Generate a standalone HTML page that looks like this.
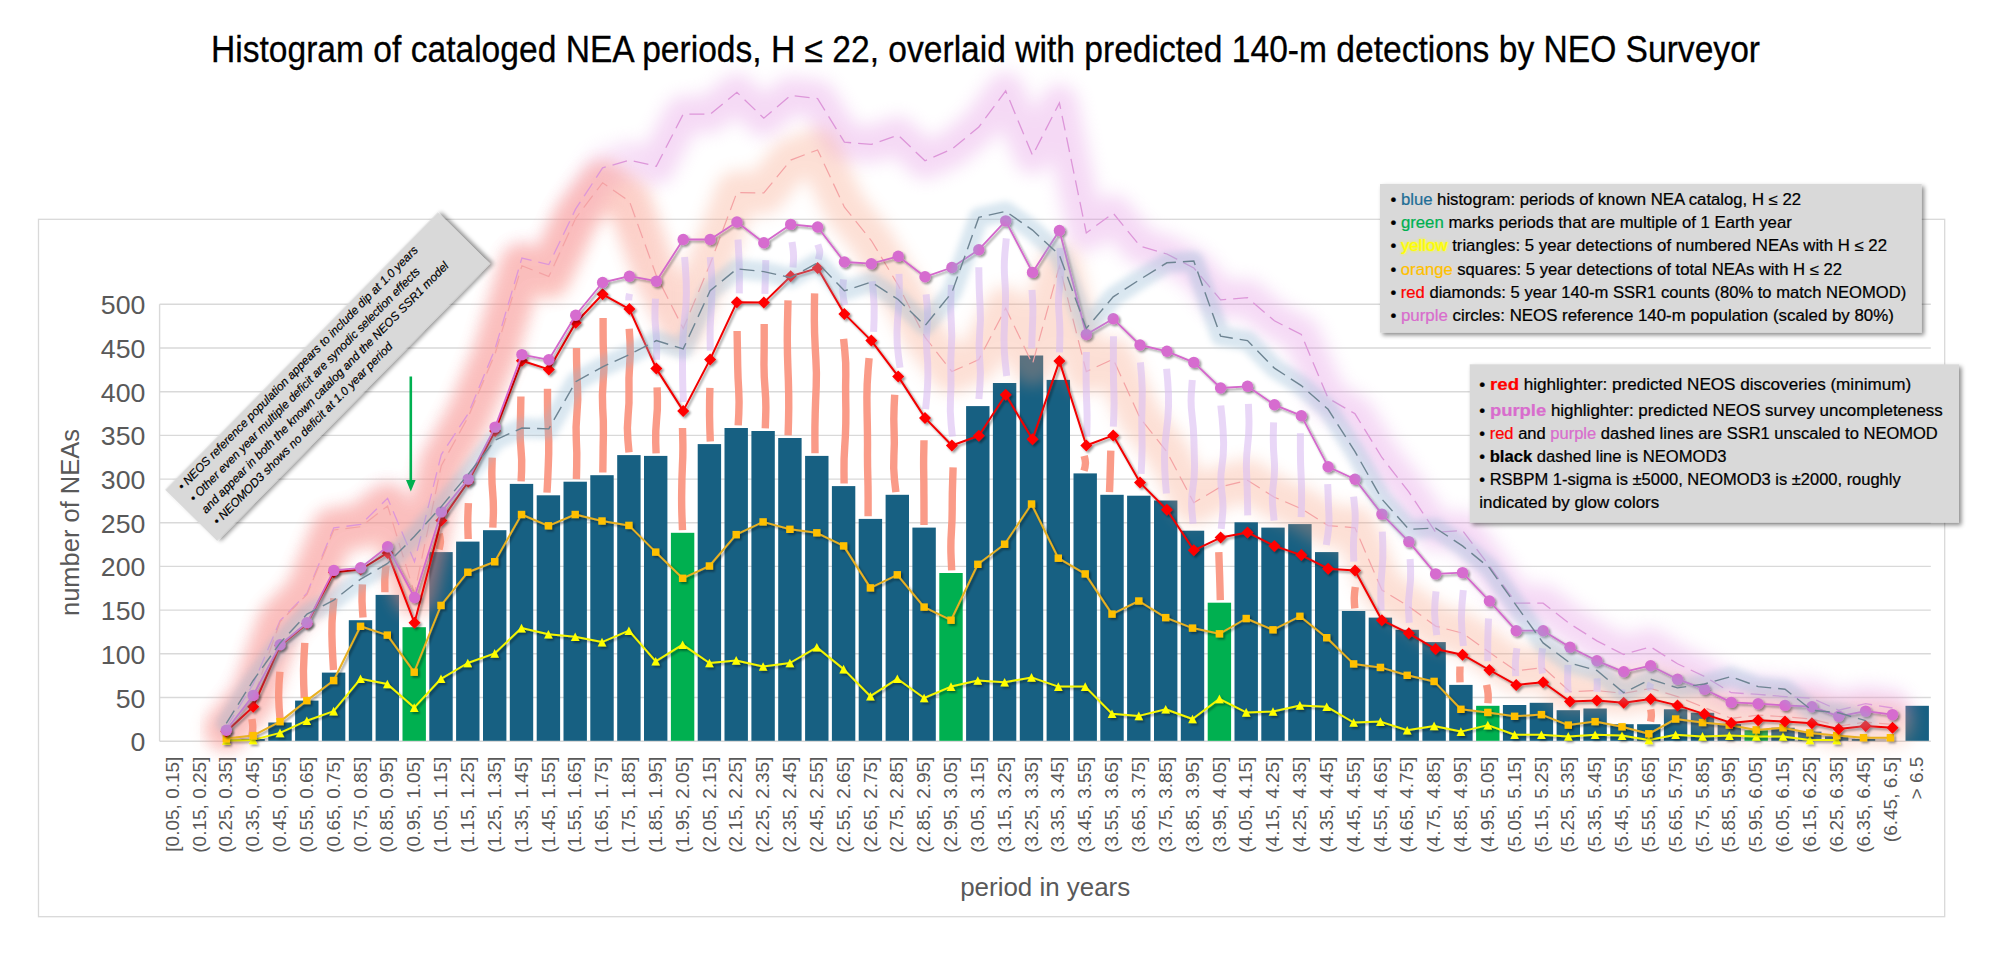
<!DOCTYPE html>
<html lang="en"><head><meta charset="utf-8">
<title>Histogram of cataloged NEA periods</title>
<style>
html,body{margin:0;padding:0;background:#fff;}
body{width:2000px;height:953px;overflow:hidden;font-family:"Liberation Sans",sans-serif;}
svg{display:block;}
text{font-family:"Liberation Sans",sans-serif;}
</style></head><body>
<svg width="2000" height="953" viewBox="0 0 2000 953">
<defs>
<filter id="gP" x="-5%" y="-25%" width="110%" height="150%"><feGaussianBlur stdDeviation="8.5"/></filter>
<filter id="gR" x="-5%" y="-25%" width="110%" height="150%"><feGaussianBlur stdDeviation="8"/></filter>
<filter id="gB" x="-5%" y="-20%" width="110%" height="140%"><feGaussianBlur stdDeviation="3.3"/></filter>
<filter id="sh" x="-2%" y="-5%" width="104%" height="110%"><feDropShadow dx="1.8" dy="1.8" stdDeviation="1.2" flood-color="#000" flood-opacity="0.42"/></filter>
<filter id="yg" x="-20%" y="-40%" width="140%" height="180%"><feGaussianBlur stdDeviation="1.6"/></filter>
<filter id="bsh" x="-10%" y="-20%" width="120%" height="140%"><feDropShadow dx="2.5" dy="2.5" stdDeviation="2.2" flood-color="#000" flood-opacity="0.45"/></filter>
<linearGradient id="pgrad" gradientUnits="userSpaceOnUse" x1="0" y1="0" x2="2000" y2="0">
<stop offset="0" stop-color="#e18ce1" stop-opacity="0.3"/><stop offset="0.2742" stop-color="#e18ce1" stop-opacity="0.3"/><stop offset="0.3279" stop-color="#e18ce1" stop-opacity="1"/><stop offset="1" stop-color="#e18ce1" stop-opacity="1"/></linearGradient>
<linearGradient id="rgrad" gradientUnits="userSpaceOnUse" x1="0" y1="0" x2="2000" y2="0">
<stop offset="0" stop-color="#fa6e78" stop-opacity="1"/><stop offset="0.2876" stop-color="#fa6e78" stop-opacity="1"/><stop offset="0.3547" stop-color="#fa6e78" stop-opacity="0"/><stop offset="1" stop-color="#fa6e78" stop-opacity="0"/></linearGradient>
</defs>
<rect width="2000" height="953" fill="#fff"/>
<text id="title" x="211" y="62.2" font-size="36" fill="#000" stroke="#000" stroke-width="0.3" textLength="1549" lengthAdjust="spacingAndGlyphs">Histogram of cataloged NEA periods, H ≤ 22, overlaid with predicted 140-m detections by NEO Surveyor</text>
<rect x="38.5" y="219.3" width="1906.2" height="697.4" fill="#fff" stroke="#d9d9d9" stroke-width="1.3"/>
<g stroke="#d9d9d9" stroke-width="1.4">
<line x1="159.6" x2="1930.8" y1="741.2" y2="741.2"/><line x1="159.6" x2="1930.8" y1="697.5" y2="697.5"/><line x1="159.6" x2="1930.8" y1="653.8" y2="653.8"/><line x1="159.6" x2="1930.8" y1="610.1" y2="610.1"/><line x1="159.6" x2="1930.8" y1="566.4" y2="566.4"/><line x1="159.6" x2="1930.8" y1="522.7" y2="522.7"/><line x1="159.6" x2="1930.8" y1="479.1" y2="479.1"/><line x1="159.6" x2="1930.8" y1="435.4" y2="435.4"/><line x1="159.6" x2="1930.8" y1="391.7" y2="391.7"/><line x1="159.6" x2="1930.8" y1="348.0" y2="348.0"/><line x1="159.6" x2="1930.8" y1="304.3" y2="304.3"/><line x1="159.6" x2="159.6" y1="304.3" y2="741.2"/></g>
<g font-size="26.7" fill="#595959" text-anchor="end">
<text x="145.4" y="751.2">0</text><text x="145.4" y="707.5">50</text><text x="145.4" y="663.8">100</text><text x="145.4" y="620.1">150</text><text x="145.4" y="576.4">200</text><text x="145.4" y="532.7">250</text><text x="145.4" y="489.1">300</text><text x="145.4" y="445.4">350</text><text x="145.4" y="401.7">400</text><text x="145.4" y="358.0">450</text><text x="145.4" y="314.3">500</text></g>
<text transform="translate(79,522.5) rotate(-90)" font-size="26" fill="#595959" text-anchor="middle" textLength="187" lengthAdjust="spacingAndGlyphs">number of NEAs</text>
<text x="1045.2" y="896" font-size="26" fill="#595959" text-anchor="middle" textLength="170" lengthAdjust="spacingAndGlyphs">period in years</text>
<g font-size="19" fill="#595959" text-anchor="end">
<text transform="translate(178.7,756.6) rotate(-90)">[0.05, 0.15]</text><text transform="translate(205.5,756.6) rotate(-90)">(0.15, 0.25]</text><text transform="translate(232.4,756.6) rotate(-90)">(0.25, 0.35]</text><text transform="translate(259.2,756.6) rotate(-90)">(0.35, 0.45]</text><text transform="translate(286.1,756.6) rotate(-90)">(0.45, 0.55]</text><text transform="translate(312.9,756.6) rotate(-90)">(0.55, 0.65]</text><text transform="translate(339.7,756.6) rotate(-90)">(0.65, 0.75]</text><text transform="translate(366.6,756.6) rotate(-90)">(0.75, 0.85]</text><text transform="translate(393.4,756.6) rotate(-90)">(0.85, 0.95]</text><text transform="translate(420.3,756.6) rotate(-90)">(0.95, 1.05]</text><text transform="translate(447.1,756.6) rotate(-90)">(1.05, 1.15]</text><text transform="translate(473.9,756.6) rotate(-90)">(1.15, 1.25]</text><text transform="translate(500.8,756.6) rotate(-90)">(1.25, 1.35]</text><text transform="translate(527.6,756.6) rotate(-90)">(1.35, 1.45]</text><text transform="translate(554.5,756.6) rotate(-90)">(1.45, 1.55]</text><text transform="translate(581.3,756.6) rotate(-90)">(1.55, 1.65]</text><text transform="translate(608.1,756.6) rotate(-90)">(1.65, 1.75]</text><text transform="translate(635.0,756.6) rotate(-90)">(1.75, 1.85]</text><text transform="translate(661.8,756.6) rotate(-90)">(1.85, 1.95]</text><text transform="translate(688.7,756.6) rotate(-90)">(1.95, 2.05]</text><text transform="translate(715.5,756.6) rotate(-90)">(2.05, 2.15]</text><text transform="translate(742.3,756.6) rotate(-90)">(2.15, 2.25]</text><text transform="translate(769.2,756.6) rotate(-90)">(2.25, 2.35]</text><text transform="translate(796.0,756.6) rotate(-90)">(2.35, 2.45]</text><text transform="translate(822.9,756.6) rotate(-90)">(2.45, 2.55]</text><text transform="translate(849.7,756.6) rotate(-90)">(2.55, 2.65]</text><text transform="translate(876.5,756.6) rotate(-90)">(2.65, 2.75]</text><text transform="translate(903.4,756.6) rotate(-90)">(2.75, 2.85]</text><text transform="translate(930.2,756.6) rotate(-90)">(2.85, 2.95]</text><text transform="translate(957.1,756.6) rotate(-90)">(2.95, 3.05]</text><text transform="translate(983.9,756.6) rotate(-90)">(3.05, 3.15]</text><text transform="translate(1010.7,756.6) rotate(-90)">(3.15, 3.25]</text><text transform="translate(1037.6,756.6) rotate(-90)">(3.25, 3.35]</text><text transform="translate(1064.4,756.6) rotate(-90)">(3.35, 3.45]</text><text transform="translate(1091.3,756.6) rotate(-90)">(3.45, 3.55]</text><text transform="translate(1118.1,756.6) rotate(-90)">(3.55, 3.65]</text><text transform="translate(1144.9,756.6) rotate(-90)">(3.65, 3.75]</text><text transform="translate(1171.8,756.6) rotate(-90)">(3.75, 3.85]</text><text transform="translate(1198.6,756.6) rotate(-90)">(3.85, 3.95]</text><text transform="translate(1225.5,756.6) rotate(-90)">(3.95, 4.05]</text><text transform="translate(1252.3,756.6) rotate(-90)">(4.05, 4.15]</text><text transform="translate(1279.1,756.6) rotate(-90)">(4.15, 4.25]</text><text transform="translate(1306.0,756.6) rotate(-90)">(4.25, 4.35]</text><text transform="translate(1332.8,756.6) rotate(-90)">(4.35, 4.45]</text><text transform="translate(1359.7,756.6) rotate(-90)">(4.45, 4.55]</text><text transform="translate(1386.5,756.6) rotate(-90)">(4.55, 4.65]</text><text transform="translate(1413.3,756.6) rotate(-90)">(4.65, 4.75]</text><text transform="translate(1440.2,756.6) rotate(-90)">(4.75, 4.85]</text><text transform="translate(1467.0,756.6) rotate(-90)">(4.85, 4.95]</text><text transform="translate(1493.9,756.6) rotate(-90)">(4.95, 5.05]</text><text transform="translate(1520.7,756.6) rotate(-90)">(5.05, 5.15]</text><text transform="translate(1547.5,756.6) rotate(-90)">(5.15, 5.25]</text><text transform="translate(1574.4,756.6) rotate(-90)">(5.25, 5.35]</text><text transform="translate(1601.2,756.6) rotate(-90)">(5.35, 5.45]</text><text transform="translate(1628.1,756.6) rotate(-90)">(5.45, 5.55]</text><text transform="translate(1654.9,756.6) rotate(-90)">(5.55, 5.65]</text><text transform="translate(1681.7,756.6) rotate(-90)">(5.65, 5.75]</text><text transform="translate(1708.6,756.6) rotate(-90)">(5.75, 5.85]</text><text transform="translate(1735.4,756.6) rotate(-90)">(5.85, 5.95]</text><text transform="translate(1762.3,756.6) rotate(-90)">(5.95, 6.05]</text><text transform="translate(1789.1,756.6) rotate(-90)">(6.05, 6.15]</text><text transform="translate(1815.9,756.6) rotate(-90)">(6.15, 6.25]</text><text transform="translate(1842.8,756.6) rotate(-90)">(6.25, 6.35]</text><text transform="translate(1869.6,756.6) rotate(-90)">(6.35, 6.45]</text><text transform="translate(1896.5,756.6) rotate(-90)">(6.45, 6.5]</text><text transform="translate(1923.3,756.6) rotate(-90)">&gt; 6.5</text></g>
<g>
<rect x="241.4" y="739.1" width="23.4" height="1.7" fill="#176082"/><rect x="268.3" y="722.5" width="23.4" height="18.3" fill="#176082"/><rect x="295.1" y="700.6" width="23.4" height="40.2" fill="#176082"/><rect x="321.9" y="672.6" width="23.4" height="68.2" fill="#176082"/><rect x="348.8" y="620.2" width="23.4" height="120.6" fill="#176082"/><rect x="375.6" y="594.9" width="23.4" height="145.9" fill="#176082"/><rect x="402.5" y="627.2" width="23.4" height="113.6" fill="#00b050"/><rect x="429.3" y="552.1" width="23.4" height="188.7" fill="#176082"/><rect x="456.1" y="541.6" width="23.4" height="199.2" fill="#176082"/><rect x="483.0" y="530.2" width="23.4" height="210.6" fill="#176082"/><rect x="509.8" y="483.9" width="23.4" height="256.9" fill="#176082"/><rect x="536.7" y="495.3" width="23.4" height="245.5" fill="#176082"/><rect x="563.5" y="481.7" width="23.4" height="259.1" fill="#176082"/><rect x="590.3" y="475.2" width="23.4" height="265.6" fill="#176082"/><rect x="617.2" y="455.1" width="23.4" height="285.7" fill="#176082"/><rect x="644.0" y="455.9" width="23.4" height="284.9" fill="#176082"/><rect x="670.9" y="532.8" width="23.4" height="208.0" fill="#00b050"/><rect x="697.7" y="444.1" width="23.4" height="296.7" fill="#176082"/><rect x="724.5" y="428.0" width="23.4" height="312.8" fill="#176082"/><rect x="751.4" y="431.0" width="23.4" height="309.8" fill="#176082"/><rect x="778.2" y="438.0" width="23.4" height="302.8" fill="#176082"/><rect x="805.1" y="455.9" width="23.4" height="284.9" fill="#176082"/><rect x="831.9" y="486.1" width="23.4" height="254.7" fill="#176082"/><rect x="858.7" y="518.9" width="23.4" height="221.9" fill="#176082"/><rect x="885.6" y="494.8" width="23.4" height="246.0" fill="#176082"/><rect x="912.4" y="527.6" width="23.4" height="213.2" fill="#176082"/><rect x="939.3" y="573.0" width="23.4" height="167.8" fill="#00b050"/><rect x="966.1" y="406.1" width="23.4" height="334.7" fill="#176082"/><rect x="992.9" y="383.0" width="23.4" height="357.8" fill="#176082"/><rect x="1019.8" y="355.5" width="23.4" height="385.3" fill="#176082"/><rect x="1046.6" y="379.9" width="23.4" height="360.9" fill="#176082"/><rect x="1073.5" y="473.4" width="23.4" height="267.4" fill="#176082"/><rect x="1100.3" y="494.8" width="23.4" height="246.0" fill="#176082"/><rect x="1127.1" y="495.7" width="23.4" height="245.1" fill="#176082"/><rect x="1154.0" y="500.5" width="23.4" height="240.3" fill="#176082"/><rect x="1180.8" y="530.7" width="23.4" height="210.1" fill="#176082"/><rect x="1207.7" y="602.7" width="23.4" height="138.1" fill="#00b050"/><rect x="1234.5" y="522.3" width="23.4" height="218.5" fill="#176082"/><rect x="1261.3" y="527.6" width="23.4" height="213.2" fill="#176082"/><rect x="1288.2" y="524.1" width="23.4" height="216.7" fill="#176082"/><rect x="1315.0" y="552.1" width="23.4" height="188.7" fill="#176082"/><rect x="1341.9" y="611.0" width="23.4" height="129.8" fill="#176082"/><rect x="1368.7" y="617.6" width="23.4" height="123.2" fill="#176082"/><rect x="1395.5" y="629.8" width="23.4" height="111.0" fill="#176082"/><rect x="1422.4" y="642.1" width="23.4" height="98.7" fill="#176082"/><rect x="1449.2" y="684.9" width="23.4" height="55.9" fill="#176082"/><rect x="1476.1" y="705.8" width="23.4" height="35.0" fill="#00b050"/><rect x="1502.9" y="705.0" width="23.4" height="35.8" fill="#176082"/><rect x="1529.7" y="702.8" width="23.4" height="38.0" fill="#176082"/><rect x="1556.6" y="710.2" width="23.4" height="30.6" fill="#176082"/><rect x="1583.4" y="708.5" width="23.4" height="32.3" fill="#176082"/><rect x="1610.3" y="724.2" width="23.4" height="16.6" fill="#176082"/><rect x="1637.1" y="724.2" width="23.4" height="16.6" fill="#176082"/><rect x="1663.9" y="709.3" width="23.4" height="31.5" fill="#176082"/><rect x="1690.8" y="712.8" width="23.4" height="28.0" fill="#176082"/><rect x="1717.6" y="724.2" width="23.4" height="16.6" fill="#176082"/><rect x="1744.5" y="730.3" width="23.4" height="10.5" fill="#00b050"/><rect x="1771.3" y="727.7" width="23.4" height="13.1" fill="#176082"/><rect x="1798.1" y="731.6" width="23.4" height="9.2" fill="#176082"/><rect x="1825.0" y="736.4" width="23.4" height="4.4" fill="#176082"/><rect x="1851.8" y="739.1" width="23.4" height="1.7" fill="#176082"/><rect x="1905.5" y="705.8" width="23.4" height="35.0" fill="#176082"/></g>
<polyline points="226.3,727.7 253.2,684.0 280.1,620.7 307.0,593.3 333.8,527.8 360.7,524.5 387.6,498.3 414.5,561.7 441.3,454.6 468.2,413.7 495.1,348.7 521.9,258.0 548.8,264.6 575.7,208.9 602.6,167.9 629.4,160.1 656.3,166.3 683.2,114.2 710.1,114.2 736.9,92.3 763.8,118.2 790.7,95.3 817.6,98.6 844.4,142.2 871.3,144.4 898.2,135.1 925.0,160.8 951.9,149.1 978.8,127.0 1005.7,90.9 1032.5,155.4 1059.4,102.9 1086.3,232.9 1113.2,213.2 1140.0,246.0 1166.9,254.0 1193.8,267.9 1220.6,299.9 1247.5,297.7 1274.4,320.8 1301.3,334.5 1328.1,398.2 1355.0,413.8 1381.9,457.5 1408.8,491.8 1435.6,532.2 1462.5,530.5 1489.4,566.0 1516.2,603.2 1543.1,603.2 1570.0,623.9 1596.9,640.9 1623.7,654.5 1650.6,646.9 1677.5,663.8 1704.4,676.4 1731.2,692.7 1758.1,694.4 1785.0,696.6 1811.9,698.2 1838.7,710.2 1865.6,703.7 1892.5,708.0" fill="none" stroke="url(#pgrad)" stroke-width="37" stroke-linejoin="round" stroke-linecap="round" filter="url(#gP)" opacity="0.32"/>
<polyline points="226.3,729.3 253.2,698.2 280.1,621.7 307.0,594.4 333.8,530.0 360.7,526.7 387.6,506.0 414.5,593.3 441.3,465.6 468.2,416.9 495.1,353.6 521.9,265.7 548.8,276.6 575.7,218.2 602.6,182.7 629.4,201.2 656.3,275.5 683.2,328.5 710.1,264.0 736.9,192.5 763.8,193.0 790.7,160.1 817.6,149.9 844.4,207.2 871.3,240.5 898.2,285.3 925.0,337.2 951.9,371.6 978.8,359.6 1005.7,308.3 1032.5,364.0 1059.4,266.2 1086.3,371.6 1113.2,359.1 1140.0,418.0 1166.9,451.9 1193.8,502.7 1220.6,486.9 1247.5,480.3 1274.4,497.2 1301.3,508.7 1328.1,525.6 1355.0,527.8 1381.9,590.1 1408.8,606.5 1435.6,626.1 1462.5,633.2 1489.4,652.3 1516.2,670.9 1543.1,667.6 1570.0,691.6 1596.9,690.6 1623.7,693.3 1650.6,688.4 1677.5,696.6 1704.4,707.5 1731.2,718.4 1758.1,715.1 1785.0,716.8 1811.9,719.0 1838.7,726.1 1865.6,722.2 1892.5,724.4" fill="none" stroke="#f89b7a" stroke-width="43" stroke-linejoin="round" stroke-linecap="round" filter="url(#gR)" opacity="0.31"/>
<polyline points="226.3,729.3 253.2,698.2 280.1,621.7 307.0,594.4 333.8,530.0 360.7,526.7 387.6,506.0 414.5,593.3 441.3,465.6 468.2,416.9 495.1,353.6 521.9,265.7 548.8,276.6 575.7,218.2 602.6,182.7 629.4,201.2 656.3,275.5 683.2,328.5 710.1,264.0 736.9,192.5" fill="none" stroke="url(#rgrad)" stroke-width="43" stroke-linejoin="round" stroke-linecap="round" filter="url(#gR)" opacity="0.24"/>
<polyline points="226.3,727.7 253.2,684.0 280.1,620.7 307.0,593.3 333.8,527.8 360.7,524.5 387.6,498.3 414.5,561.7 441.3,454.6 468.2,413.7 495.1,348.7 521.9,258.0 548.8,264.6 575.7,208.9 602.6,167.9 629.4,160.1 656.3,166.3 683.2,114.2 710.1,114.2 736.9,92.3 763.8,118.2 790.7,95.3 817.6,98.6 844.4,142.2 871.3,144.4 898.2,135.1 925.0,160.8 951.9,149.1 978.8,127.0 1005.7,90.9 1032.5,155.4 1059.4,102.9 1086.3,232.9 1113.2,213.2 1140.0,246.0 1166.9,254.0 1193.8,267.9 1220.6,299.9 1247.5,297.7 1274.4,320.8 1301.3,334.5 1328.1,398.2 1355.0,413.8 1381.9,457.5 1408.8,491.8 1435.6,532.2 1462.5,530.5 1489.4,566.0 1516.2,603.2 1543.1,603.2 1570.0,623.9 1596.9,640.9 1623.7,654.5 1650.6,646.9 1677.5,663.8 1704.4,676.4 1731.2,692.7 1758.1,694.4 1785.0,696.6 1811.9,698.2 1838.7,710.2 1865.6,703.7 1892.5,708.0" fill="none" stroke="#dd96d9" stroke-width="1.3" stroke-dasharray="15 7"/>
<polyline points="226.3,729.3 253.2,698.2 280.1,621.7 307.0,594.4 333.8,530.0 360.7,526.7 387.6,506.0 414.5,593.3 441.3,465.6 468.2,416.9 495.1,353.6 521.9,265.7 548.8,276.6 575.7,218.2 602.6,182.7 629.4,201.2 656.3,275.5 683.2,328.5 710.1,264.0 736.9,192.5 763.8,193.0 790.7,160.1 817.6,149.9 844.4,207.2 871.3,240.5 898.2,285.3 925.0,337.2 951.9,371.6 978.8,359.6 1005.7,308.3 1032.5,364.0 1059.4,266.2 1086.3,371.6 1113.2,359.1 1140.0,418.0 1166.9,451.9 1193.8,502.7 1220.6,486.9 1247.5,480.3 1274.4,497.2 1301.3,508.7 1328.1,525.6 1355.0,527.8 1381.9,590.1 1408.8,606.5 1435.6,626.1 1462.5,633.2 1489.4,652.3 1516.2,670.9 1543.1,667.6 1570.0,691.6 1596.9,690.6 1623.7,693.3 1650.6,688.4 1677.5,696.6 1704.4,707.5 1731.2,718.4 1758.1,715.1 1785.0,716.8 1811.9,719.0 1838.7,726.1 1865.6,722.2 1892.5,724.4" fill="none" stroke="#f4a2a4" stroke-width="1.2" stroke-dasharray="15 7"/>
<g fill="none" stroke="#fa9682" stroke-width="7.4" stroke-linecap="butt" opacity="0.95">
<path d="M251.9,719.0 Q251.9,719.0 252.5,723.3 Q253.1,727.7 252.4,732.1 L251.7,736.4"/><path d="M279.9,671.8 Q279.9,671.8 279.0,683.8 Q278.2,695.8 279.1,707.8 L280.1,719.8"/><path d="M304.8,642.9 Q304.8,642.9 304.0,656.7 Q303.1,670.5 303.7,684.2 L304.3,698.0"/><path d="M333.9,598.4 Q333.9,598.4 332.8,610.3 Q331.7,622.3 331.9,634.2 Q332.1,646.1 332.8,658.1 L333.5,670.0"/><path d="M362.4,584.4 Q362.4,584.4 362.1,592.7 Q361.8,601.0 362.4,609.3 L363.0,617.6"/><path d="M386.1,565.2 Q386.1,565.2 385.3,571.9 Q384.6,578.7 384.8,585.5 L384.9,592.3"/><path d="M439.2,533.7 Q439.2,533.7 440.0,537.6 Q440.9,541.6 439.9,545.5 L439.0,549.4"/><path d="M468.4,503.1 Q468.4,503.1 468.0,512.1 Q467.6,521.0 467.9,530.0 L468.2,539.0"/><path d="M492.2,457.7 Q492.2,457.7 491.9,469.3 Q491.6,481.0 492.7,492.6 Q493.7,504.3 493.3,515.9 L492.8,527.6"/><path d="M520.9,396.5 Q520.9,396.5 520.7,407.1 Q520.6,417.7 520.2,428.3 Q519.9,438.9 521.0,449.5 Q522.1,460.1 521.6,470.7 L521.1,481.3"/><path d="M547.5,388.7 Q547.5,388.7 547.5,401.7 Q547.4,414.7 548.2,427.7 Q549.0,440.6 548.7,453.6 Q548.3,466.6 547.7,479.6 L547.0,492.6"/><path d="M576.5,348.0 Q576.5,348.0 576.6,361.1 Q576.8,374.2 577.5,387.3 Q578.3,400.5 576.9,413.6 Q575.6,426.7 576.3,439.8 Q577.1,452.9 576.7,466.0 L576.4,479.1"/><path d="M603.1,317.9 Q603.1,317.9 603.1,330.8 Q603.0,343.7 603.7,356.5 Q604.4,369.4 603.1,382.3 Q601.9,395.2 602.7,408.1 Q603.6,421.0 603.4,433.9 Q603.1,446.8 603.0,459.7 L602.8,472.5"/><path d="M629.2,328.8 Q629.2,328.8 630.0,341.2 Q630.7,353.5 629.6,365.9 Q628.6,378.3 629.0,390.6 Q629.4,403.0 628.1,415.4 Q626.8,427.7 627.9,440.1 L629.0,452.4"/><path d="M657.1,387.3 Q657.1,387.3 657.4,398.3 Q657.7,409.3 656.5,420.3 Q655.4,431.3 655.7,442.3 L656.1,453.3"/><path d="M682.5,428.0 Q682.5,428.0 682.8,440.8 Q683.1,453.5 682.4,466.3 Q681.8,479.1 681.7,491.9 Q681.5,504.7 682.0,517.4 L682.5,530.2"/><path d="M709.9,387.8 Q709.9,387.8 709.6,401.2 Q709.4,414.7 709.8,428.1 L710.3,441.5"/><path d="M737.1,331.0 Q737.1,331.0 737.3,342.8 Q737.5,354.6 737.7,366.4 Q737.9,378.2 738.7,390.0 Q739.4,401.8 738.8,413.6 L738.2,425.4"/><path d="M764.2,324.0 Q764.2,324.0 764.2,337.0 Q764.2,350.1 764.0,363.2 Q763.9,376.2 765.1,389.3 Q766.2,402.3 765.7,415.4 L765.3,428.4"/><path d="M788.0,300.4 Q788.0,300.4 787.7,313.9 Q787.3,327.4 787.3,340.9 Q787.4,354.4 787.9,367.9 Q788.5,381.4 788.7,394.9 Q788.9,408.4 788.5,421.9 L788.1,435.4"/><path d="M814.6,293.4 Q814.6,293.4 814.4,306.7 Q814.2,320.1 814.6,333.4 Q815.1,346.7 815.9,360.0 Q816.8,373.4 816.2,386.7 Q815.6,400.0 815.2,413.3 Q814.8,426.7 814.9,440.0 L815.0,453.3"/><path d="M843.6,338.9 Q843.6,338.9 844.8,350.9 Q846.1,363.0 845.8,375.0 Q845.5,387.1 845.7,399.1 Q846.0,411.2 845.8,423.2 Q845.6,435.3 844.7,447.3 Q843.8,459.4 844.0,471.4 L844.1,483.5"/><path d="M869.1,358.1 Q869.1,358.1 868.0,371.3 Q866.9,384.4 866.9,397.6 Q867.0,410.8 867.3,424.0 Q867.6,437.2 867.5,450.3 Q867.4,463.5 867.8,476.7 Q868.2,489.9 868.1,503.1 L868.1,516.2"/><path d="M894.7,394.8 Q894.7,394.8 894.1,407.0 Q893.5,419.1 894.1,431.3 Q894.7,443.5 893.9,455.7 Q893.2,467.8 894.5,480.0 L895.9,492.2"/><path d="M924.0,440.2 Q924.0,440.2 923.8,450.8 Q923.5,461.4 923.7,472.0 Q923.9,482.6 923.9,493.2 Q924.0,503.8 924.0,514.4 L924.0,525.0"/><path d="M953.1,467.3 Q953.1,467.3 952.7,480.2 Q952.2,493.1 952.2,506.0 Q952.3,518.9 951.4,531.7 Q950.5,544.6 951.1,557.5 L951.7,570.4"/><path d="M1084.2,455.9 Q1084.2,455.9 1085.1,459.7 Q1086.0,463.4 1085.0,467.1 L1084.0,470.8"/><path d="M1110.8,450.7 Q1110.8,450.7 1110.5,461.1 Q1110.2,471.5 1109.9,481.8 L1109.5,492.2"/><path d="M1218.8,552.1 Q1218.8,552.1 1219.2,564.1 Q1219.7,576.1 1220.0,588.1 L1220.3,600.1"/><path d="M1355.3,587.0 Q1355.3,587.0 1354.6,592.4 Q1354.0,597.7 1354.4,603.1 L1354.8,608.4"/><path d="M1460.0,666.5 Q1460.0,666.5 1459.9,670.5 Q1459.7,674.4 1459.9,678.3 L1460.0,682.3"/><path d="M1486.6,684.9 Q1486.6,684.9 1487.5,689.5 Q1488.4,694.1 1488.2,698.6 L1487.9,703.2"/><path d="M1650.7,709.3 Q1650.7,709.3 1651.2,712.4 Q1651.6,715.5 1651.1,718.5 L1650.6,721.6"/></g>
<g fill="none" stroke="#dcc0f3" stroke-width="7" stroke-linecap="butt" opacity="0.62">
<path d="M629.6,293.7 Q629.6,293.7 629.2,295.4 Q628.8,297.0 628.8,298.7 L628.8,300.4"/><path d="M655.5,298.7 Q655.5,298.7 655.0,308.9 Q654.6,319.0 655.7,329.2 Q656.8,339.4 656.7,349.6 L656.5,359.8"/><path d="M684.6,257.0 Q684.6,257.0 685.5,269.1 Q686.4,281.2 686.4,293.3 Q686.3,305.4 684.7,317.5 Q683.2,329.6 682.8,341.7 Q682.4,353.8 682.5,365.9 Q682.5,378.0 682.9,390.1 L683.4,402.2"/><path d="M710.2,257.0 Q710.2,257.0 711.2,268.7 Q712.1,280.4 711.9,292.1 Q711.8,303.8 710.8,315.5 Q709.9,327.2 710.1,338.9 L710.3,350.6"/><path d="M738.0,239.5 Q738.0,239.5 738.7,253.0 Q739.5,266.5 739.4,279.9 L739.3,293.4"/><path d="M765.8,260.2 Q765.8,260.2 765.6,268.6 Q765.3,277.0 765.1,285.4 L764.9,293.9"/><path d="M792.0,241.9 Q792.0,241.9 792.9,248.3 Q793.9,254.7 793.4,261.1 L793.0,267.5"/><path d="M817.8,244.5 Q817.8,244.5 819.0,248.2 Q820.3,251.9 819.3,255.6 L818.3,259.3"/><path d="M843.5,279.4 Q843.5,279.4 842.9,285.9 Q842.3,292.3 843.5,298.8 L844.8,305.2"/><path d="M872.3,281.2 Q872.3,281.2 873.4,293.9 Q874.6,306.5 874.1,319.2 L873.6,331.9"/><path d="M899.0,273.8 Q899.0,273.8 899.3,285.5 Q899.5,297.2 898.4,309.0 Q897.3,320.7 897.0,332.5 Q896.7,344.2 898.4,355.9 L900.0,367.7"/><path d="M926.1,294.3 Q926.1,294.3 927.2,305.8 Q928.3,317.3 927.0,328.8 Q925.7,340.3 926.9,351.7 Q928.0,363.2 927.9,374.7 Q927.8,386.2 926.7,397.7 L925.6,409.2"/><path d="M951.4,284.9 Q951.4,284.9 950.9,297.6 Q950.4,310.2 951.3,322.9 Q952.2,335.5 951.3,348.2 Q950.5,360.8 950.9,373.5 Q951.3,386.1 950.5,398.8 Q949.8,411.4 951.1,424.1 L952.4,436.7"/><path d="M978.8,267.2 Q978.8,267.2 979.0,280.4 Q979.3,293.6 980.1,306.8 Q981.0,320.0 979.7,333.2 Q978.4,346.4 979.7,359.6 Q981.0,372.8 979.9,385.9 L978.9,399.1"/><path d="M1006.3,238.4 Q1006.3,238.4 1005.0,252.1 Q1003.7,265.9 1004.8,279.7 Q1005.9,293.4 1005.3,307.2 Q1004.6,320.9 1004.1,334.7 Q1003.7,348.5 1005.2,362.2 L1006.7,376.0"/><path d="M1032.0,289.9 Q1032.0,289.9 1032.6,299.7 Q1033.2,309.4 1032.7,319.2 Q1032.3,328.9 1032.0,338.7 L1031.7,348.5"/><path d="M1060.0,248.0 Q1060.0,248.0 1060.7,261.0 Q1061.4,274.1 1059.6,287.1 Q1057.8,300.2 1059.0,313.2 Q1060.2,326.3 1059.8,339.3 L1059.5,352.4"/><path d="M1086.4,352.0 Q1086.4,352.0 1086.2,362.6 Q1086.0,373.1 1086.2,383.7 Q1086.3,394.3 1086.8,404.9 Q1087.3,415.5 1087.0,426.1 L1086.7,436.7"/><path d="M1113.5,336.2 Q1113.5,336.2 1113.4,347.5 Q1113.4,358.8 1113.4,370.1 Q1113.4,381.4 1113.9,392.8 Q1114.3,404.1 1113.8,415.4 L1113.3,426.7"/><path d="M1140.4,362.4 Q1140.4,362.4 1141.6,376.4 Q1142.7,390.3 1142.1,404.2 Q1141.5,418.1 1141.9,432.1 Q1142.4,446.0 1141.8,459.9 L1141.1,473.9"/><path d="M1166.6,368.8 Q1166.6,368.8 1167.7,381.3 Q1168.8,393.8 1168.5,406.2 Q1168.2,418.7 1166.4,431.2 Q1164.6,443.6 1164.5,456.1 Q1164.5,468.6 1165.4,481.0 L1166.4,493.5"/><path d="M1192.3,379.9 Q1192.3,379.9 1191.4,391.9 Q1190.5,403.9 1192.1,415.9 Q1193.6,427.8 1193.9,439.8 Q1194.2,451.8 1194.5,463.8 Q1194.8,475.7 1192.9,487.7 Q1190.9,499.7 1192.0,511.7 L1193.1,523.7"/><path d="M1220.8,405.5 Q1220.8,405.5 1222.1,417.9 Q1223.3,430.2 1223.6,442.5 Q1223.8,454.9 1221.8,467.2 Q1219.9,479.6 1221.8,491.9 Q1223.7,504.2 1222.4,516.6 L1221.2,528.9"/><path d="M1248.4,403.8 Q1248.4,403.8 1248.9,417.7 Q1249.4,431.7 1247.6,445.6 Q1245.9,459.6 1246.6,473.5 Q1247.3,487.5 1247.5,501.4 L1247.7,515.4"/><path d="M1273.6,422.3 Q1273.6,422.3 1273.3,434.6 Q1273.1,446.9 1274.2,459.2 Q1275.2,471.5 1273.4,483.7 Q1271.6,496.0 1272.9,508.3 L1274.1,520.6"/><path d="M1300.4,433.2 Q1300.4,433.2 1300.4,447.2 Q1300.3,461.2 1301.1,475.2 Q1301.8,489.1 1301.5,503.1 L1301.2,517.1"/><path d="M1327.7,484.2 Q1327.7,484.2 1328.1,494.3 Q1328.4,504.5 1328.9,514.6 Q1329.4,524.8 1327.8,534.9 L1326.3,545.1"/><path d="M1353.6,496.7 Q1353.6,496.7 1354.7,507.5 Q1355.8,518.3 1354.5,529.2 Q1353.2,540.0 1353.5,550.8 L1353.8,561.7"/><path d="M1382.3,531.6 Q1382.3,531.6 1382.8,544.8 Q1383.3,557.9 1381.9,571.1 Q1380.4,584.3 1380.8,597.4 L1381.1,610.6"/><path d="M1410.1,559.0 Q1410.1,559.0 1410.6,569.7 Q1411.0,580.3 1409.5,590.9 Q1407.9,601.6 1408.6,612.2 L1409.3,622.8"/><path d="M1436.0,591.4 Q1436.0,591.4 1435.0,602.3 Q1433.9,613.2 1435.4,624.1 L1436.8,635.1"/><path d="M1463.3,590.1 Q1463.3,590.1 1462.0,604.1 Q1460.7,618.0 1462.0,632.0 L1463.4,646.0"/><path d="M1488.5,618.5 Q1488.5,618.5 1488.1,629.2 Q1487.7,639.9 1487.7,650.6 L1487.7,661.3"/><path d="M1516.9,648.2 Q1516.9,648.2 1516.0,655.2 Q1515.1,662.2 1515.4,669.1 L1515.7,676.1"/><path d="M1542.6,648.2 Q1542.6,648.2 1541.8,654.5 Q1541.0,660.8 1541.7,667.2 L1542.5,673.5"/><path d="M1568.0,664.8 Q1568.0,664.8 1567.7,671.8 Q1567.5,678.8 1567.8,685.8 L1568.1,692.7"/><path d="M1597.1,678.3 Q1597.1,678.3 1597.2,681.7 Q1597.4,685.1 1597.1,688.5 L1596.9,691.9"/><path d="M1622.2,689.2 Q1622.2,689.2 1622.0,690.4 Q1621.7,691.6 1622.0,692.9 L1622.2,694.1"/><path d="M1651.1,683.1 Q1651.1,683.1 1650.2,684.9 Q1649.4,686.6 1650.2,688.4 L1651.0,690.1"/></g>
<g filter="url(#sh)">
<polyline points="226.3,740.4 253.1,739.9 280.0,732.9 306.8,720.7 333.6,711.1 360.5,678.8 387.3,684.0 414.2,707.6 441.0,678.8 467.8,663.0 494.7,653.4 521.5,628.1 548.4,634.2 575.2,636.8 602.0,642.1 628.9,630.7 655.7,661.3 682.6,644.7 709.4,663.0 736.2,660.4 763.1,666.5 789.9,663.0 816.8,647.3 843.6,669.1 870.4,696.2 897.3,678.8 924.1,698.0 951.0,686.6 977.8,680.5 1004.6,682.3 1031.5,677.4 1058.3,686.6 1085.2,686.6 1112.0,713.7 1138.8,715.9 1165.7,709.3 1192.5,719.0 1219.4,698.9 1246.2,712.4 1273.0,711.5 1299.9,705.4 1326.7,706.7 1353.6,722.5 1380.4,721.6 1407.2,730.3 1434.1,725.9 1460.9,731.6 1487.8,725.1 1514.6,734.7 1541.4,734.7 1568.3,736.4 1595.1,734.7 1622.0,735.6 1648.8,739.9 1675.6,734.7 1702.5,736.4 1729.3,735.6 1756.2,736.4 1783.0,736.4 1809.8,739.9 1836.7,739.9" fill="none" stroke="#f5f500" stroke-width="2.0" stroke-linejoin="round"/>
<path d="M226.3,736.1 L230.6,744.7 L222.0,744.7Z" fill="#ffff00"/><path d="M253.1,735.6 L257.4,744.2 L248.8,744.2Z" fill="#ffff00"/><path d="M280.0,728.6 L284.3,737.2 L275.7,737.2Z" fill="#ffff00"/><path d="M306.8,716.4 L311.1,725.0 L302.5,725.0Z" fill="#ffff00"/><path d="M333.6,706.8 L337.9,715.4 L329.3,715.4Z" fill="#ffff00"/><path d="M360.5,674.5 L364.8,683.1 L356.2,683.1Z" fill="#ffff00"/><path d="M387.3,679.7 L391.6,688.3 L383.0,688.3Z" fill="#ffff00"/><path d="M414.2,703.3 L418.5,711.9 L409.9,711.9Z" fill="#ffff00"/><path d="M441.0,674.5 L445.3,683.1 L436.7,683.1Z" fill="#ffff00"/><path d="M467.8,658.7 L472.1,667.3 L463.5,667.3Z" fill="#ffff00"/><path d="M494.7,649.1 L499.0,657.7 L490.4,657.7Z" fill="#ffff00"/><path d="M521.5,623.8 L525.8,632.4 L517.2,632.4Z" fill="#ffff00"/><path d="M548.4,629.9 L552.7,638.5 L544.1,638.5Z" fill="#ffff00"/><path d="M575.2,632.5 L579.5,641.1 L570.9,641.1Z" fill="#ffff00"/><path d="M602.0,637.8 L606.3,646.4 L597.7,646.4Z" fill="#ffff00"/><path d="M628.9,626.4 L633.2,635.0 L624.6,635.0Z" fill="#ffff00"/><path d="M655.7,657.0 L660.0,665.6 L651.4,665.6Z" fill="#ffff00"/><path d="M682.6,640.4 L686.9,649.0 L678.3,649.0Z" fill="#ffff00"/><path d="M709.4,658.7 L713.7,667.3 L705.1,667.3Z" fill="#ffff00"/><path d="M736.2,656.1 L740.5,664.7 L731.9,664.7Z" fill="#ffff00"/><path d="M763.1,662.2 L767.4,670.8 L758.8,670.8Z" fill="#ffff00"/><path d="M789.9,658.7 L794.2,667.3 L785.6,667.3Z" fill="#ffff00"/><path d="M816.8,643.0 L821.1,651.6 L812.5,651.6Z" fill="#ffff00"/><path d="M843.6,664.8 L847.9,673.4 L839.3,673.4Z" fill="#ffff00"/><path d="M870.4,691.9 L874.7,700.5 L866.1,700.5Z" fill="#ffff00"/><path d="M897.3,674.5 L901.6,683.1 L893.0,683.1Z" fill="#ffff00"/><path d="M924.1,693.7 L928.4,702.3 L919.8,702.3Z" fill="#ffff00"/><path d="M951.0,682.3 L955.3,690.9 L946.7,690.9Z" fill="#ffff00"/><path d="M977.8,676.2 L982.1,684.8 L973.5,684.8Z" fill="#ffff00"/><path d="M1004.6,678.0 L1008.9,686.6 L1000.3,686.6Z" fill="#ffff00"/><path d="M1031.5,673.1 L1035.8,681.7 L1027.2,681.7Z" fill="#ffff00"/><path d="M1058.3,682.3 L1062.6,690.9 L1054.0,690.9Z" fill="#ffff00"/><path d="M1085.2,682.3 L1089.5,690.9 L1080.9,690.9Z" fill="#ffff00"/><path d="M1112.0,709.4 L1116.3,718.0 L1107.7,718.0Z" fill="#ffff00"/><path d="M1138.8,711.6 L1143.1,720.2 L1134.5,720.2Z" fill="#ffff00"/><path d="M1165.7,705.0 L1170.0,713.6 L1161.4,713.6Z" fill="#ffff00"/><path d="M1192.5,714.7 L1196.8,723.3 L1188.2,723.3Z" fill="#ffff00"/><path d="M1219.4,694.6 L1223.7,703.2 L1215.1,703.2Z" fill="#ffff00"/><path d="M1246.2,708.1 L1250.5,716.7 L1241.9,716.7Z" fill="#ffff00"/><path d="M1273.0,707.2 L1277.3,715.8 L1268.7,715.8Z" fill="#ffff00"/><path d="M1299.9,701.1 L1304.2,709.7 L1295.6,709.7Z" fill="#ffff00"/><path d="M1326.7,702.4 L1331.0,711.0 L1322.4,711.0Z" fill="#ffff00"/><path d="M1353.6,718.2 L1357.9,726.8 L1349.3,726.8Z" fill="#ffff00"/><path d="M1380.4,717.3 L1384.7,725.9 L1376.1,725.9Z" fill="#ffff00"/><path d="M1407.2,726.0 L1411.5,734.6 L1402.9,734.6Z" fill="#ffff00"/><path d="M1434.1,721.6 L1438.4,730.2 L1429.8,730.2Z" fill="#ffff00"/><path d="M1460.9,727.3 L1465.2,735.9 L1456.6,735.9Z" fill="#ffff00"/><path d="M1487.8,720.8 L1492.1,729.4 L1483.5,729.4Z" fill="#ffff00"/><path d="M1514.6,730.4 L1518.9,739.0 L1510.3,739.0Z" fill="#ffff00"/><path d="M1541.4,730.4 L1545.7,739.0 L1537.1,739.0Z" fill="#ffff00"/><path d="M1568.3,732.1 L1572.6,740.7 L1564.0,740.7Z" fill="#ffff00"/><path d="M1595.1,730.4 L1599.4,739.0 L1590.8,739.0Z" fill="#ffff00"/><path d="M1622.0,731.3 L1626.3,739.9 L1617.7,739.9Z" fill="#ffff00"/><path d="M1648.8,735.6 L1653.1,744.2 L1644.5,744.2Z" fill="#ffff00"/><path d="M1675.6,730.4 L1679.9,739.0 L1671.3,739.0Z" fill="#ffff00"/><path d="M1702.5,732.1 L1706.8,740.7 L1698.2,740.7Z" fill="#ffff00"/><path d="M1729.3,731.3 L1733.6,739.9 L1725.0,739.9Z" fill="#ffff00"/><path d="M1756.2,732.1 L1760.5,740.7 L1751.9,740.7Z" fill="#ffff00"/><path d="M1783.0,732.1 L1787.3,740.7 L1778.7,740.7Z" fill="#ffff00"/><path d="M1809.8,735.6 L1814.1,744.2 L1805.5,744.2Z" fill="#ffff00"/><path d="M1836.7,735.6 L1841.0,744.2 L1832.4,744.2Z" fill="#ffff00"/></g>
<g filter="url(#sh)">
<polyline points="226.3,738.6 253.1,735.6 280.0,721.6 306.8,700.6 333.6,680.5 360.5,626.3 387.3,635.1 414.2,672.2 441.0,605.4 467.8,572.2 494.7,561.7 521.5,514.5 548.4,525.8 575.2,514.5 602.0,521.0 628.9,525.4 655.7,552.1 682.6,578.3 709.4,566.0 736.2,534.6 763.1,521.9 789.9,529.3 816.8,532.8 843.6,545.9 870.4,587.9 897.3,574.8 924.1,607.1 951.0,620.2 977.8,564.3 1004.6,544.2 1031.5,504.0 1058.3,558.2 1085.2,573.9 1112.0,614.1 1138.8,601.0 1165.7,617.6 1192.5,628.1 1219.4,633.8 1246.2,618.5 1273.0,629.8 1299.9,616.3 1326.7,637.7 1353.6,663.9 1380.4,667.4 1407.2,675.3 1434.1,681.4 1460.9,709.3 1487.8,712.4 1514.6,716.3 1541.4,714.6 1568.3,725.1 1595.1,721.6 1622.0,726.8 1648.8,733.8 1675.6,719.0 1702.5,722.5 1729.3,725.1 1756.2,729.9 1783.0,727.7 1809.8,732.9 1836.7,735.6 1863.5,737.7 1890.4,737.7" fill="none" stroke="#e8b020" stroke-width="2.0" stroke-linejoin="round"/>
<rect x="222.6" y="734.9" width="7.4" height="7.4" fill="#ffc000"/><rect x="249.4" y="731.9" width="7.4" height="7.4" fill="#ffc000"/><rect x="276.3" y="717.9" width="7.4" height="7.4" fill="#ffc000"/><rect x="303.1" y="696.9" width="7.4" height="7.4" fill="#ffc000"/><rect x="329.9" y="676.8" width="7.4" height="7.4" fill="#ffc000"/><rect x="356.8" y="622.6" width="7.4" height="7.4" fill="#ffc000"/><rect x="383.6" y="631.4" width="7.4" height="7.4" fill="#ffc000"/><rect x="410.5" y="668.5" width="7.4" height="7.4" fill="#ffc000"/><rect x="437.3" y="601.7" width="7.4" height="7.4" fill="#ffc000"/><rect x="464.1" y="568.5" width="7.4" height="7.4" fill="#ffc000"/><rect x="491.0" y="558.0" width="7.4" height="7.4" fill="#ffc000"/><rect x="517.8" y="510.8" width="7.4" height="7.4" fill="#ffc000"/><rect x="544.7" y="522.1" width="7.4" height="7.4" fill="#ffc000"/><rect x="571.5" y="510.8" width="7.4" height="7.4" fill="#ffc000"/><rect x="598.3" y="517.3" width="7.4" height="7.4" fill="#ffc000"/><rect x="625.2" y="521.7" width="7.4" height="7.4" fill="#ffc000"/><rect x="652.0" y="548.4" width="7.4" height="7.4" fill="#ffc000"/><rect x="678.9" y="574.6" width="7.4" height="7.4" fill="#ffc000"/><rect x="705.7" y="562.3" width="7.4" height="7.4" fill="#ffc000"/><rect x="732.5" y="530.9" width="7.4" height="7.4" fill="#ffc000"/><rect x="759.4" y="518.2" width="7.4" height="7.4" fill="#ffc000"/><rect x="786.2" y="525.6" width="7.4" height="7.4" fill="#ffc000"/><rect x="813.1" y="529.1" width="7.4" height="7.4" fill="#ffc000"/><rect x="839.9" y="542.2" width="7.4" height="7.4" fill="#ffc000"/><rect x="866.7" y="584.2" width="7.4" height="7.4" fill="#ffc000"/><rect x="893.6" y="571.1" width="7.4" height="7.4" fill="#ffc000"/><rect x="920.4" y="603.4" width="7.4" height="7.4" fill="#ffc000"/><rect x="947.3" y="616.5" width="7.4" height="7.4" fill="#ffc000"/><rect x="974.1" y="560.6" width="7.4" height="7.4" fill="#ffc000"/><rect x="1000.9" y="540.5" width="7.4" height="7.4" fill="#ffc000"/><rect x="1027.8" y="500.3" width="7.4" height="7.4" fill="#ffc000"/><rect x="1054.6" y="554.5" width="7.4" height="7.4" fill="#ffc000"/><rect x="1081.5" y="570.2" width="7.4" height="7.4" fill="#ffc000"/><rect x="1108.3" y="610.4" width="7.4" height="7.4" fill="#ffc000"/><rect x="1135.1" y="597.3" width="7.4" height="7.4" fill="#ffc000"/><rect x="1162.0" y="613.9" width="7.4" height="7.4" fill="#ffc000"/><rect x="1188.8" y="624.4" width="7.4" height="7.4" fill="#ffc000"/><rect x="1215.7" y="630.1" width="7.4" height="7.4" fill="#ffc000"/><rect x="1242.5" y="614.8" width="7.4" height="7.4" fill="#ffc000"/><rect x="1269.3" y="626.1" width="7.4" height="7.4" fill="#ffc000"/><rect x="1296.2" y="612.6" width="7.4" height="7.4" fill="#ffc000"/><rect x="1323.0" y="634.0" width="7.4" height="7.4" fill="#ffc000"/><rect x="1349.9" y="660.2" width="7.4" height="7.4" fill="#ffc000"/><rect x="1376.7" y="663.7" width="7.4" height="7.4" fill="#ffc000"/><rect x="1403.5" y="671.6" width="7.4" height="7.4" fill="#ffc000"/><rect x="1430.4" y="677.7" width="7.4" height="7.4" fill="#ffc000"/><rect x="1457.2" y="705.6" width="7.4" height="7.4" fill="#ffc000"/><rect x="1484.1" y="708.7" width="7.4" height="7.4" fill="#ffc000"/><rect x="1510.9" y="712.6" width="7.4" height="7.4" fill="#ffc000"/><rect x="1537.7" y="710.9" width="7.4" height="7.4" fill="#ffc000"/><rect x="1564.6" y="721.4" width="7.4" height="7.4" fill="#ffc000"/><rect x="1591.4" y="717.9" width="7.4" height="7.4" fill="#ffc000"/><rect x="1618.3" y="723.1" width="7.4" height="7.4" fill="#ffc000"/><rect x="1645.1" y="730.1" width="7.4" height="7.4" fill="#ffc000"/><rect x="1671.9" y="715.3" width="7.4" height="7.4" fill="#ffc000"/><rect x="1698.8" y="718.8" width="7.4" height="7.4" fill="#ffc000"/><rect x="1725.6" y="721.4" width="7.4" height="7.4" fill="#ffc000"/><rect x="1752.5" y="726.2" width="7.4" height="7.4" fill="#ffc000"/><rect x="1779.3" y="724.0" width="7.4" height="7.4" fill="#ffc000"/><rect x="1806.1" y="729.2" width="7.4" height="7.4" fill="#ffc000"/><rect x="1833.0" y="731.9" width="7.4" height="7.4" fill="#ffc000"/><rect x="1859.8" y="734.0" width="7.4" height="7.4" fill="#ffc000"/><rect x="1886.7" y="734.0" width="7.4" height="7.4" fill="#ffc000"/></g>
<g filter="url(#sh)">
<polyline points="226.3,731.6 253.2,706.7 280.1,645.6 307.0,623.7 333.8,572.2 360.7,569.5 387.6,552.9 414.5,622.8 441.3,520.6 468.2,481.7 495.1,431.0 521.9,360.7 548.8,369.4 575.7,322.7 602.6,294.3 629.4,309.1 656.3,368.6 683.2,410.9 710.1,359.4 736.9,302.2 763.8,302.6 790.7,276.2 817.6,268.1 844.4,313.9 871.3,340.6 898.2,376.4 925.0,417.9 951.9,445.5 978.8,435.8 1005.7,394.8 1032.5,439.3 1059.4,361.1 1086.3,445.5 1113.2,435.4 1140.0,482.6 1166.9,509.7 1193.8,550.3 1220.6,537.6 1247.5,532.4 1274.4,545.9 1301.3,555.1 1328.1,568.7 1355.0,570.4 1381.9,620.2 1408.8,633.3 1435.6,649.1 1462.5,654.7 1489.4,670.0 1516.2,684.9 1543.1,682.3 1570.0,701.5 1596.9,700.6 1623.7,702.8 1650.6,698.9 1677.5,705.4 1704.4,714.1 1731.2,722.9 1758.1,720.3 1785.0,721.6 1811.9,723.3 1838.7,729.0 1865.6,725.9 1892.5,727.7" fill="none" stroke="#f20000" stroke-width="2.0" stroke-linejoin="round"/>
<path d="M226.3,725.6 L232.3,731.6 L226.3,737.6 L220.3,731.6Z" fill="#ff0000"/><path d="M253.2,700.7 L259.2,706.7 L253.2,712.7 L247.2,706.7Z" fill="#ff0000"/><path d="M280.1,639.6 L286.1,645.6 L280.1,651.6 L274.1,645.6Z" fill="#ff0000"/><path d="M307.0,617.7 L313.0,623.7 L307.0,629.7 L301.0,623.7Z" fill="#ff0000"/><path d="M333.8,566.2 L339.8,572.2 L333.8,578.2 L327.8,572.2Z" fill="#ff0000"/><path d="M360.7,563.5 L366.7,569.5 L360.7,575.5 L354.7,569.5Z" fill="#ff0000"/><path d="M387.6,546.9 L393.6,552.9 L387.6,558.9 L381.6,552.9Z" fill="#ff0000"/><path d="M414.5,616.8 L420.5,622.8 L414.5,628.8 L408.5,622.8Z" fill="#ff0000"/><path d="M441.3,514.6 L447.3,520.6 L441.3,526.6 L435.3,520.6Z" fill="#ff0000"/><path d="M468.2,475.7 L474.2,481.7 L468.2,487.7 L462.2,481.7Z" fill="#ff0000"/><path d="M495.1,425.0 L501.1,431.0 L495.1,437.0 L489.1,431.0Z" fill="#ff0000"/><path d="M521.9,354.7 L527.9,360.7 L521.9,366.7 L515.9,360.7Z" fill="#ff0000"/><path d="M548.8,363.4 L554.8,369.4 L548.8,375.4 L542.8,369.4Z" fill="#ff0000"/><path d="M575.7,316.7 L581.7,322.7 L575.7,328.7 L569.7,322.7Z" fill="#ff0000"/><path d="M602.6,288.3 L608.6,294.3 L602.6,300.3 L596.6,294.3Z" fill="#ff0000"/><path d="M629.4,303.1 L635.4,309.1 L629.4,315.1 L623.4,309.1Z" fill="#ff0000"/><path d="M656.3,362.6 L662.3,368.6 L656.3,374.6 L650.3,368.6Z" fill="#ff0000"/><path d="M683.2,404.9 L689.2,410.9 L683.2,416.9 L677.2,410.9Z" fill="#ff0000"/><path d="M710.1,353.4 L716.1,359.4 L710.1,365.4 L704.1,359.4Z" fill="#ff0000"/><path d="M736.9,296.2 L742.9,302.2 L736.9,308.2 L730.9,302.2Z" fill="#ff0000"/><path d="M763.8,296.6 L769.8,302.6 L763.8,308.6 L757.8,302.6Z" fill="#ff0000"/><path d="M790.7,270.2 L796.7,276.2 L790.7,282.2 L784.7,276.2Z" fill="#ff0000"/><path d="M817.6,262.1 L823.6,268.1 L817.6,274.1 L811.6,268.1Z" fill="#ff0000"/><path d="M844.4,307.9 L850.4,313.9 L844.4,319.9 L838.4,313.9Z" fill="#ff0000"/><path d="M871.3,334.6 L877.3,340.6 L871.3,346.6 L865.3,340.6Z" fill="#ff0000"/><path d="M898.2,370.4 L904.2,376.4 L898.2,382.4 L892.2,376.4Z" fill="#ff0000"/><path d="M925.0,411.9 L931.0,417.9 L925.0,423.9 L919.0,417.9Z" fill="#ff0000"/><path d="M951.9,439.5 L957.9,445.5 L951.9,451.5 L945.9,445.5Z" fill="#ff0000"/><path d="M978.8,429.8 L984.8,435.8 L978.8,441.8 L972.8,435.8Z" fill="#ff0000"/><path d="M1005.7,388.8 L1011.7,394.8 L1005.7,400.8 L999.7,394.8Z" fill="#ff0000"/><path d="M1032.5,433.3 L1038.5,439.3 L1032.5,445.3 L1026.5,439.3Z" fill="#ff0000"/><path d="M1059.4,355.1 L1065.4,361.1 L1059.4,367.1 L1053.4,361.1Z" fill="#ff0000"/><path d="M1086.3,439.5 L1092.3,445.5 L1086.3,451.5 L1080.3,445.5Z" fill="#ff0000"/><path d="M1113.2,429.4 L1119.2,435.4 L1113.2,441.4 L1107.2,435.4Z" fill="#ff0000"/><path d="M1140.0,476.6 L1146.0,482.6 L1140.0,488.6 L1134.0,482.6Z" fill="#ff0000"/><path d="M1166.9,503.7 L1172.9,509.7 L1166.9,515.7 L1160.9,509.7Z" fill="#ff0000"/><path d="M1193.8,544.3 L1199.8,550.3 L1193.8,556.3 L1187.8,550.3Z" fill="#ff0000"/><path d="M1220.6,531.6 L1226.6,537.6 L1220.6,543.6 L1214.6,537.6Z" fill="#ff0000"/><path d="M1247.5,526.4 L1253.5,532.4 L1247.5,538.4 L1241.5,532.4Z" fill="#ff0000"/><path d="M1274.4,539.9 L1280.4,545.9 L1274.4,551.9 L1268.4,545.9Z" fill="#ff0000"/><path d="M1301.3,549.1 L1307.3,555.1 L1301.3,561.1 L1295.3,555.1Z" fill="#ff0000"/><path d="M1328.1,562.7 L1334.1,568.7 L1328.1,574.7 L1322.1,568.7Z" fill="#ff0000"/><path d="M1355.0,564.4 L1361.0,570.4 L1355.0,576.4 L1349.0,570.4Z" fill="#ff0000"/><path d="M1381.9,614.2 L1387.9,620.2 L1381.9,626.2 L1375.9,620.2Z" fill="#ff0000"/><path d="M1408.8,627.3 L1414.8,633.3 L1408.8,639.3 L1402.8,633.3Z" fill="#ff0000"/><path d="M1435.6,643.1 L1441.6,649.1 L1435.6,655.1 L1429.6,649.1Z" fill="#ff0000"/><path d="M1462.5,648.7 L1468.5,654.7 L1462.5,660.7 L1456.5,654.7Z" fill="#ff0000"/><path d="M1489.4,664.0 L1495.4,670.0 L1489.4,676.0 L1483.4,670.0Z" fill="#ff0000"/><path d="M1516.2,678.9 L1522.2,684.9 L1516.2,690.9 L1510.2,684.9Z" fill="#ff0000"/><path d="M1543.1,676.3 L1549.1,682.3 L1543.1,688.3 L1537.1,682.3Z" fill="#ff0000"/><path d="M1570.0,695.5 L1576.0,701.5 L1570.0,707.5 L1564.0,701.5Z" fill="#ff0000"/><path d="M1596.9,694.6 L1602.9,700.6 L1596.9,706.6 L1590.9,700.6Z" fill="#ff0000"/><path d="M1623.7,696.8 L1629.7,702.8 L1623.7,708.8 L1617.7,702.8Z" fill="#ff0000"/><path d="M1650.6,692.9 L1656.6,698.9 L1650.6,704.9 L1644.6,698.9Z" fill="#ff0000"/><path d="M1677.5,699.4 L1683.5,705.4 L1677.5,711.4 L1671.5,705.4Z" fill="#ff0000"/><path d="M1704.4,708.1 L1710.4,714.1 L1704.4,720.1 L1698.4,714.1Z" fill="#ff0000"/><path d="M1731.2,716.9 L1737.2,722.9 L1731.2,728.9 L1725.2,722.9Z" fill="#ff0000"/><path d="M1758.1,714.3 L1764.1,720.3 L1758.1,726.3 L1752.1,720.3Z" fill="#ff0000"/><path d="M1785.0,715.6 L1791.0,721.6 L1785.0,727.6 L1779.0,721.6Z" fill="#ff0000"/><path d="M1811.9,717.3 L1817.9,723.3 L1811.9,729.3 L1805.9,723.3Z" fill="#ff0000"/><path d="M1838.7,723.0 L1844.7,729.0 L1838.7,735.0 L1832.7,729.0Z" fill="#ff0000"/><path d="M1865.6,719.9 L1871.6,725.9 L1865.6,731.9 L1859.6,725.9Z" fill="#ff0000"/><path d="M1892.5,721.7 L1898.5,727.7 L1892.5,733.7 L1886.5,727.7Z" fill="#ff0000"/></g>
<g filter="url(#sh)">
<polyline points="226.3,730.3 253.2,695.4 280.1,644.7 307.0,622.8 333.8,570.4 360.7,567.8 387.6,546.8 414.5,597.5 441.3,511.9 468.2,479.1 495.1,427.1 521.9,354.6 548.8,359.8 575.7,315.3 602.6,282.5 629.4,276.2 656.3,281.2 683.2,239.5 710.1,239.5 736.9,222.0 763.8,242.7 790.7,224.4 817.6,227.0 844.4,262.0 871.3,263.7 898.2,256.3 925.0,276.8 951.9,267.5 978.8,249.7 1005.7,220.9 1032.5,272.4 1059.4,230.5 1086.3,334.5 1113.2,318.8 1140.0,345.0 1166.9,351.3 1193.8,362.4 1220.6,388.0 1247.5,386.3 1274.4,404.8 1301.3,415.7 1328.1,466.7 1355.0,479.2 1381.9,514.1 1408.8,541.6 1435.6,573.9 1462.5,572.6 1489.4,601.0 1516.2,630.7 1543.1,630.7 1570.0,647.3 1596.9,660.8 1623.7,671.8 1650.6,665.7 1677.5,679.2 1704.4,689.2 1731.2,702.4 1758.1,703.7 1785.0,705.4 1811.9,706.7 1838.7,716.3 1865.6,711.1 1892.5,714.6" fill="none" stroke="#d468cc" stroke-width="1.8" stroke-linejoin="round"/>
<circle cx="226.3" cy="730.3" r="5.7" fill="#d66ccf"/><circle cx="253.2" cy="695.4" r="5.7" fill="#d66ccf"/><circle cx="280.1" cy="644.7" r="5.7" fill="#d66ccf"/><circle cx="307.0" cy="622.8" r="5.7" fill="#d66ccf"/><circle cx="333.8" cy="570.4" r="5.7" fill="#d66ccf"/><circle cx="360.7" cy="567.8" r="5.7" fill="#d66ccf"/><circle cx="387.6" cy="546.8" r="5.7" fill="#d66ccf"/><circle cx="414.5" cy="597.5" r="5.7" fill="#d66ccf"/><circle cx="441.3" cy="511.9" r="5.7" fill="#d66ccf"/><circle cx="468.2" cy="479.1" r="5.7" fill="#d66ccf"/><circle cx="495.1" cy="427.1" r="5.7" fill="#d66ccf"/><circle cx="521.9" cy="354.6" r="5.7" fill="#d66ccf"/><circle cx="548.8" cy="359.8" r="5.7" fill="#d66ccf"/><circle cx="575.7" cy="315.3" r="5.7" fill="#d66ccf"/><circle cx="602.6" cy="282.5" r="5.7" fill="#d66ccf"/><circle cx="629.4" cy="276.2" r="5.7" fill="#d66ccf"/><circle cx="656.3" cy="281.2" r="5.7" fill="#d66ccf"/><circle cx="683.2" cy="239.5" r="5.7" fill="#d66ccf"/><circle cx="710.1" cy="239.5" r="5.7" fill="#d66ccf"/><circle cx="736.9" cy="222.0" r="5.7" fill="#d66ccf"/><circle cx="763.8" cy="242.7" r="5.7" fill="#d66ccf"/><circle cx="790.7" cy="224.4" r="5.7" fill="#d66ccf"/><circle cx="817.6" cy="227.0" r="5.7" fill="#d66ccf"/><circle cx="844.4" cy="262.0" r="5.7" fill="#d66ccf"/><circle cx="871.3" cy="263.7" r="5.7" fill="#d66ccf"/><circle cx="898.2" cy="256.3" r="5.7" fill="#d66ccf"/><circle cx="925.0" cy="276.8" r="5.7" fill="#d66ccf"/><circle cx="951.9" cy="267.5" r="5.7" fill="#d66ccf"/><circle cx="978.8" cy="249.7" r="5.7" fill="#d66ccf"/><circle cx="1005.7" cy="220.9" r="5.7" fill="#d66ccf"/><circle cx="1032.5" cy="272.4" r="5.7" fill="#d66ccf"/><circle cx="1059.4" cy="230.5" r="5.7" fill="#d66ccf"/><circle cx="1086.3" cy="334.5" r="5.7" fill="#d66ccf"/><circle cx="1113.2" cy="318.8" r="5.7" fill="#d66ccf"/><circle cx="1140.0" cy="345.0" r="5.7" fill="#d66ccf"/><circle cx="1166.9" cy="351.3" r="5.7" fill="#d66ccf"/><circle cx="1193.8" cy="362.4" r="5.7" fill="#d66ccf"/><circle cx="1220.6" cy="388.0" r="5.7" fill="#d66ccf"/><circle cx="1247.5" cy="386.3" r="5.7" fill="#d66ccf"/><circle cx="1274.4" cy="404.8" r="5.7" fill="#d66ccf"/><circle cx="1301.3" cy="415.7" r="5.7" fill="#d66ccf"/><circle cx="1328.1" cy="466.7" r="5.7" fill="#d66ccf"/><circle cx="1355.0" cy="479.2" r="5.7" fill="#d66ccf"/><circle cx="1381.9" cy="514.1" r="5.7" fill="#d66ccf"/><circle cx="1408.8" cy="541.6" r="5.7" fill="#d66ccf"/><circle cx="1435.6" cy="573.9" r="5.7" fill="#d66ccf"/><circle cx="1462.5" cy="572.6" r="5.7" fill="#d66ccf"/><circle cx="1489.4" cy="601.0" r="5.7" fill="#d66ccf"/><circle cx="1516.2" cy="630.7" r="5.7" fill="#d66ccf"/><circle cx="1543.1" cy="630.7" r="5.7" fill="#d66ccf"/><circle cx="1570.0" cy="647.3" r="5.7" fill="#d66ccf"/><circle cx="1596.9" cy="660.8" r="5.7" fill="#d66ccf"/><circle cx="1623.7" cy="671.8" r="5.7" fill="#d66ccf"/><circle cx="1650.6" cy="665.7" r="5.7" fill="#d66ccf"/><circle cx="1677.5" cy="679.2" r="5.7" fill="#d66ccf"/><circle cx="1704.4" cy="689.2" r="5.7" fill="#d66ccf"/><circle cx="1731.2" cy="702.4" r="5.7" fill="#d66ccf"/><circle cx="1758.1" cy="703.7" r="5.7" fill="#d66ccf"/><circle cx="1785.0" cy="705.4" r="5.7" fill="#d66ccf"/><circle cx="1811.9" cy="706.7" r="5.7" fill="#d66ccf"/><circle cx="1838.7" cy="716.3" r="5.7" fill="#d66ccf"/><circle cx="1865.6" cy="711.1" r="5.7" fill="#d66ccf"/><circle cx="1892.5" cy="714.6" r="5.7" fill="#d66ccf"/></g>
<polyline points="226.3,723.3 253.2,680.5 280.1,642.9 307.0,614.1 333.8,600.1 360.7,579.1 387.6,563.4 414.5,536.3 441.3,506.6 468.2,474.3 495.1,440.2 521.9,428.0 548.8,428.9 575.7,381.7 602.6,366.8 629.4,354.6 656.3,340.6 683.2,348.9 710.1,290.8 736.9,268.9 763.8,271.6 790.7,277.7 817.6,262.8 844.4,290.8 871.3,282.1 898.2,299.5 925.0,325.7 951.9,292.5 978.8,217.4 1005.7,211.3 1032.5,230.1 1059.4,255.0 1086.3,328.4 1113.2,296.9 1140.0,279.4 1166.9,262.8 1193.8,261.1 1220.6,336.2 1247.5,340.6 1274.4,368.1 1301.3,385.6 1328.1,409.3 1355.0,451.6 1381.9,499.2 1408.8,529.3 1435.6,528.1 1462.5,545.9 1489.4,567.8 1516.2,605.4 1543.1,642.9 1570.0,663.0 1596.9,670.5 1623.7,692.7 1650.6,679.2 1677.5,687.9 1704.4,684.0 1731.2,676.6 1758.1,686.6 1785.0,689.2 1811.9,710.2 1838.7,712.8 1865.6,720.7" fill="none" stroke="#8db6d2" stroke-width="20" stroke-linejoin="round" stroke-linecap="round" filter="url(#gB)" opacity="0.33"/>
<polyline points="226.3,723.3 253.2,680.5 280.1,642.9 307.0,614.1 333.8,600.1 360.7,579.1 387.6,563.4 414.5,536.3 441.3,506.6 468.2,474.3 495.1,440.2 521.9,428.0 548.8,428.9 575.7,381.7 602.6,366.8 629.4,354.6 656.3,340.6 683.2,348.9 710.1,290.8 736.9,268.9 763.8,271.6 790.7,277.7 817.6,262.8 844.4,290.8 871.3,282.1 898.2,299.5 925.0,325.7 951.9,292.5 978.8,217.4 1005.7,211.3 1032.5,230.1 1059.4,255.0 1086.3,328.4 1113.2,296.9 1140.0,279.4 1166.9,262.8 1193.8,261.1 1220.6,336.2 1247.5,340.6 1274.4,368.1 1301.3,385.6 1328.1,409.3 1355.0,451.6 1381.9,499.2 1408.8,529.3 1435.6,528.1 1462.5,545.9 1489.4,567.8 1516.2,605.4 1543.1,642.9 1570.0,663.0 1596.9,670.5 1623.7,692.7 1650.6,679.2 1677.5,687.9 1704.4,684.0 1731.2,676.6 1758.1,686.6 1785.0,689.2 1811.9,710.2 1838.7,712.8 1865.6,720.7" fill="none" stroke="#6e8492" stroke-width="1.4" stroke-dasharray="15 7"/>
<g><line x1="410.8" y1="376.5" x2="410.8" y2="483" stroke="#00b050" stroke-width="2.6"/><path d="M406,480 L415.6,480 L410.8,491.5Z" fill="#00b050"/></g>
<g transform="translate(328.6,375.6) rotate(-45.5)">
<rect x="-196" y="-36.5" width="389" height="73" fill="#d9d9d9" filter="url(#bsh)"/>
<g font-size="11.85" font-style="italic" fill="#000" stroke="#000" stroke-width="0.18">
<text x="-184.5" y="-23.3">• NEOS reference population appears to include dip at 1.0 years</text><text x="-184.5" y="-6.8">• Other even year multiple deficit are synodic selection effects</text><text x="-184.5" y="9.7">and appear in both the known catalog and the NEOS SSR1 model</text><text x="-184.5" y="26.2">• NEOMOD3 shows no deficit at 1.0 year period</text></g></g>
<rect x="1380" y="184" width="541.7" height="148.7" fill="#d9d9d9" filter="url(#bsh)"/>
<text x="1400.9" y="251.2" font-size="15.6" fill="#ffff00" stroke="#ffff00" stroke-width="0.7" textLength="46.6" lengthAdjust="spacingAndGlyphs" filter="url(#yg)" opacity="0.7">yellow</text>
<g font-size="15.6" fill="#000" stroke-width="0.22" stroke="#000">
<text x="1390.4" y="204.7" textLength="410.6" lengthAdjust="spacingAndGlyphs" xml:space="preserve">• <tspan fill="#1f6e96" stroke="#1f6e96">blue</tspan> histogram: periods of known NEA catalog, H ≤ 22</text><text x="1390.4" y="228.0" textLength="401.4" lengthAdjust="spacingAndGlyphs" xml:space="preserve">• <tspan fill="#00b050" stroke="#00b050">green</tspan> marks periods that are multiple of 1 Earth year</text><text x="1390.4" y="251.2" textLength="496.6" lengthAdjust="spacingAndGlyphs" xml:space="preserve">• <tspan fill="#ffff00" stroke="#ffff00">yellow</tspan> triangles: 5 year detections of numbered NEAs with H ≤ 22</text><text x="1390.4" y="274.5" textLength="451.6" lengthAdjust="spacingAndGlyphs" xml:space="preserve">• <tspan fill="#ffc000" stroke="#ffc000">orange</tspan> squares: 5 year detections of total NEAs with H ≤ 22</text><text x="1390.4" y="297.8" textLength="515.8" lengthAdjust="spacingAndGlyphs" xml:space="preserve">• <tspan fill="#ff0000" stroke="#ff0000">red</tspan> diamonds: 5 year 140-m SSR1 counts (80% to match NEOMOD)</text><text x="1390.4" y="321.0" textLength="503.4" lengthAdjust="spacingAndGlyphs" xml:space="preserve">• <tspan fill="#d86dcd" stroke="#d86dcd">purple</tspan> circles: NEOS reference 140-m population (scaled by 80%)</text></g>
<rect x="1469.7" y="364.3" width="489.3" height="158.4" fill="#d9d9d9" filter="url(#bsh)"/>
<g font-size="15.6" fill="#000" stroke-width="0.22" stroke="#000">
<text x="1479.3" y="389.9" textLength="431.8" lengthAdjust="spacingAndGlyphs" xml:space="preserve">• <tspan fill="#ff0000" stroke="#ff0000" font-weight="bold" font-size="17">red</tspan> highlighter: predicted NEOS discoveries (minimum)</text><text x="1479.3" y="416" textLength="463.4" lengthAdjust="spacingAndGlyphs" xml:space="preserve">• <tspan fill="#d86dcd" stroke="#d86dcd" font-weight="bold" font-size="17">purple</tspan> highlighter: predicted NEOS survey uncompleteness</text><text x="1479.3" y="438.8" textLength="458.5" lengthAdjust="spacingAndGlyphs" xml:space="preserve">• <tspan fill="#ff0000" stroke="#ff0000">red</tspan> and <tspan fill="#d86dcd" stroke="#d86dcd">purple</tspan> dashed lines are SSR1 unscaled to NEOMOD</text><text x="1479.3" y="462.2" textLength="247.3" lengthAdjust="spacingAndGlyphs" xml:space="preserve">• <tspan font-weight="bold">black</tspan> dashed line is NEOMOD3</text><text x="1479.3" y="485.3" textLength="421.4" lengthAdjust="spacingAndGlyphs" xml:space="preserve">• RSBPM 1-sigma is ±5000, NEOMOD3 is ±2000, roughly</text><text x="1479.3" y="508.1" textLength="179.9" lengthAdjust="spacingAndGlyphs" xml:space="preserve">indicated by glow colors</text></g>
</svg>
</body></html>
